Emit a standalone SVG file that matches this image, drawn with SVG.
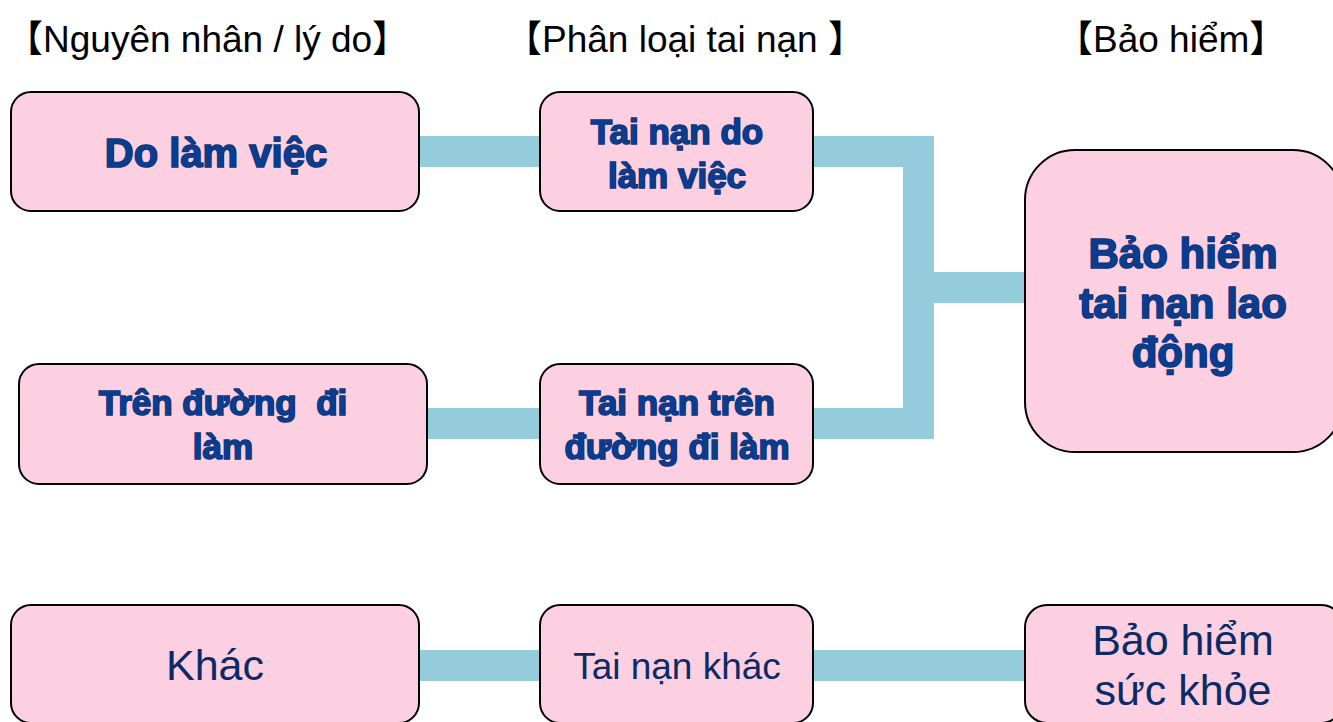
<svg xmlns="http://www.w3.org/2000/svg" width="1333" height="722" viewBox="0 0 1333 722">
<style>
.box{fill:#FCD0E0;stroke:#000;stroke-width:2}
.bar{fill:#94CCDC}
.hdr{font-family:"Liberation Sans","Noto Sans CJK JP",sans-serif;font-size:37px;fill:#000}
.b{font-family:"Liberation Sans",Arial,sans-serif;font-weight:bold;fill:#0A3D8F;stroke:#0B2E70;stroke-width:1.6;paint-order:stroke;text-anchor:middle}
.r{font-family:"Liberation Sans",Arial,sans-serif;fill:#0B2A66;text-anchor:middle}
</style>
<rect width="1333" height="722" fill="#fff"/>
<g id="headers">
<text class="hdr" x="6" y="52">【Nguyên nhân / lý do】</text>
<text class="hdr" x="505" y="52">【Phân loại tai nạn 】</text>
<text class="hdr" x="1056" y="52">【Bảo hiểm】</text>
</g>
<g id="connectors">
<rect class="bar" x="418" y="136" width="124" height="31"/>
<rect class="bar" x="812" y="136" width="122" height="31"/>
<rect class="bar" x="903" y="136" width="31" height="303"/>
<rect class="bar" x="812" y="408" width="122" height="31"/>
<rect class="bar" x="933" y="272" width="93" height="31"/>
<rect class="bar" x="426" y="408" width="116" height="31"/>
<rect class="bar" x="418" y="650" width="124" height="31"/>
<rect class="bar" x="812" y="650" width="214" height="31"/>
</g>
<g id="n-do-lam-viec">
<rect class="box" x="11" y="92" width="408" height="119" rx="20"/>
<text class="b" x="216" y="167" font-size="40">Do làm việc</text>
</g>
<g id="n-tren-duong">
<rect class="box" x="19" y="364" width="408" height="120" rx="20"/>
<text class="b" x="223" y="415" font-size="35" xml:space="preserve">Trên đường  đi</text>
<text class="b" x="223" y="459" font-size="35">làm</text>
</g>
<g id="n-khac">
<rect class="box" x="11" y="605" width="408" height="118" rx="20"/>
<text class="r" x="215" y="680" font-size="43">Khác</text>
</g>
<g id="n-tai-nan-lam-viec">
<rect class="box" x="540" y="92" width="273" height="119" rx="20"/>
<text class="b" x="677" y="144" font-size="35">Tai nạn do</text>
<text class="b" x="677" y="188" font-size="35">làm việc</text>
</g>
<g id="n-tai-nan-duong">
<rect class="box" x="540" y="364" width="273" height="120" rx="20"/>
<text class="b" x="677" y="415" font-size="35">Tai nạn trên</text>
<text class="b" x="677" y="459" font-size="35">đường đi làm</text>
</g>
<g id="n-tai-nan-khac">
<rect class="box" x="540" y="605" width="273" height="118" rx="20"/>
<text class="r" x="677" y="679" font-size="37">Tai nạn khác</text>
</g>
<g id="n-bh-lao-dong">
<rect class="box" x="1025" y="150" width="318" height="302" rx="50"/>
<text class="b" x="1183" y="268" font-size="42">Bảo hiểm</text>
<text class="b" x="1183" y="318" font-size="42">tai nạn lao</text>
<text class="b" x="1183" y="367" font-size="42">động</text>
</g>
<g id="n-bh-suc-khoe">
<rect class="box" x="1025" y="605" width="318" height="118" rx="22"/>
<text class="r" x="1183" y="655" font-size="43">Bảo hiểm</text>
<text class="r" x="1183" y="705" font-size="43">sức khỏe</text>
</g>
</svg>
